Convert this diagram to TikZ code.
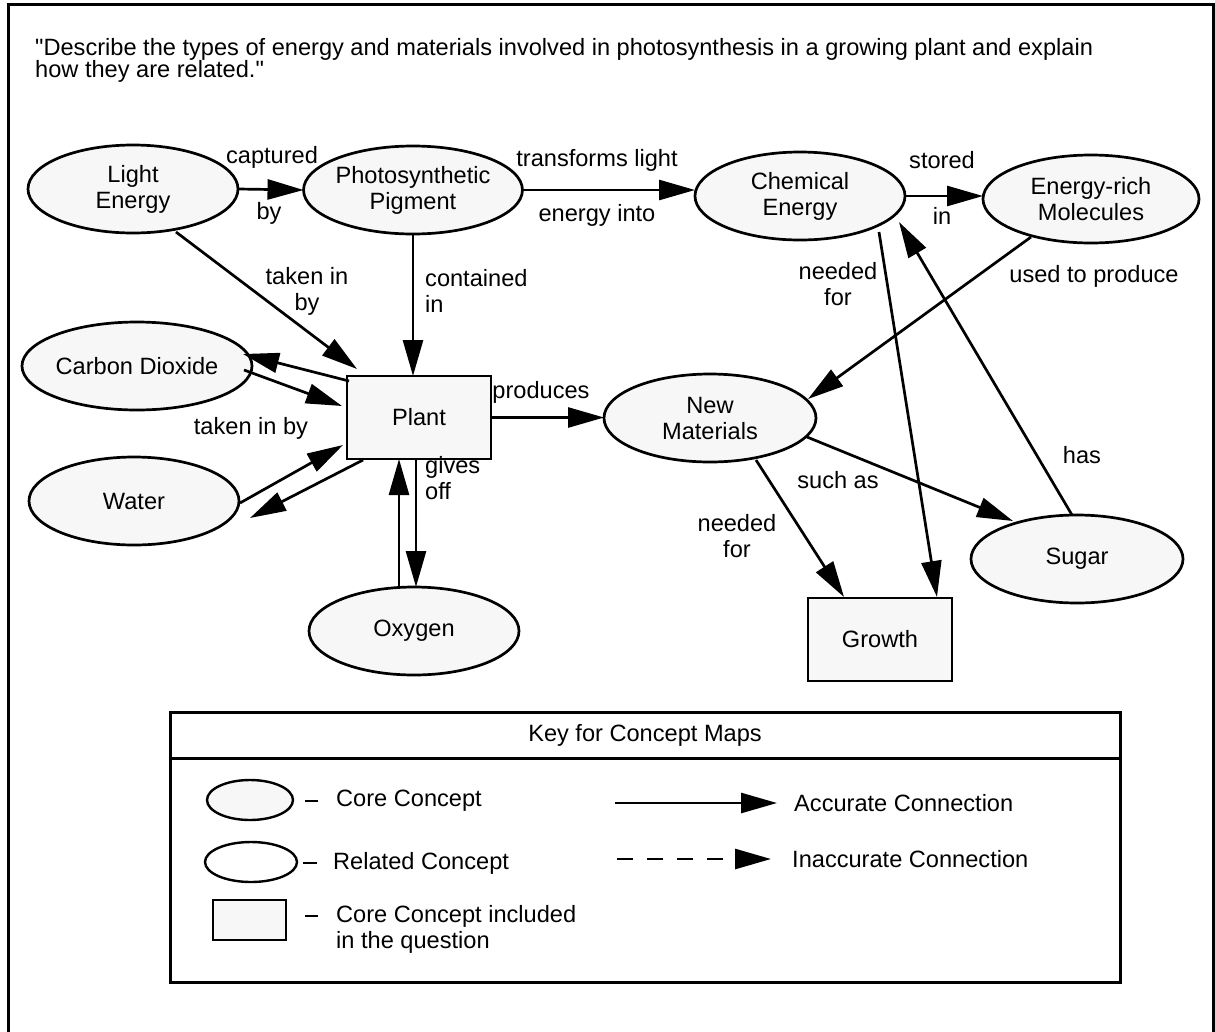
\documentclass[tikz,border=0pt]{standalone}
\usepackage{fontspec}
\setmainfont{Liberation Sans}[Ligatures=TeXOff]
\usetikzlibrary{shapes.geometric,arrows.meta}
\definecolor{conceptfill}{HTML}{F7F7F7}
\begin{document}
\begin{tikzpicture}[x=1pt,y=-1pt,
  every node/.style={font=\fontsize{23.6}{26}\selectfont},
  core/.style={ellipse,draw,line width=2.7pt,fill=conceptfill,inner sep=0pt,outer sep=0pt,
    minimum width=210pt,minimum height=88pt,align=center},
  given/.style={rectangle,draw,line width=2.7pt,fill=conceptfill,inner sep=0pt,outer sep=0pt,
    minimum width=144pt,minimum height=83pt,align=center},
  lbl/.style={inner sep=0pt,align=center},
  lbll/.style={inner sep=0pt,align=left,anchor=west},
  link/.style={line width=2.7pt,-{Triangle[length=36pt,width=20pt]}},
  plain/.style={line width=2.6pt}]
\useasboundingbox (0,0) rectangle (1215,1031);
% outer frame, open at the bottom of the page
\draw[line width=3pt] (8,1040) -- (8,4) -- (1213,4) -- (1213,1040);
% question
\node[anchor=north west,inner sep=0pt,align=left,font=\fontsize{23.6}{22}\selectfont] (q) at (35,38)
  {"Describe the types of energy and materials involved in photosynthesis in a growing plant and explain\\how they are related."};
% concepts
\node[core] (le) at (133,189) {Light\\Energy};
\node[core] (pp) at (413,190) {Photosynthetic\\Pigment};
\node[core] (ce) at (800,196) {Chemical\\Energy};
\node[core,minimum width=216pt] (er) at (1091,199) {Energy-rich\\Molecules};
\node[core] (co) at (137,366) {Carbon Dioxide};
\node[core] (wa) at (134,501) {Water};
\node[given] (pl) at (419,417.5) {Plant};
\node[core] (ox) at (414,631) {Oxygen};
\node[core,minimum width=212pt] (nm) at (710,418) {New\\Materials};
\node[core,minimum width=212pt] (su) at (1077,559) {Sugar};
\node[given] (gr) at (880,639.5) {Growth};
% links
\draw[link] (le.east) -- (pp.west);
\draw[link] (pp.east) -- (pp.east -| ce.west);
\draw[link] (ce.east) -- (ce.east -| er.west);
\draw[link] ([shift={(43pt,-43pt)}]le.center) -- ([shift={(-62pt,48.5pt)}]pl.center);
\draw[link] (pp.south) -- (pp.south |- pl.north);
\draw[link] ([shift={(-70pt,36.5pt)}]pl.center) -- ([shift={(106pt,12pt)}]co.center);
\draw[link] ([shift={(107pt,-4pt)}]co.center) -- ([shift={(-77pt,11.5pt)}]pl.center);
\draw[link] ([shift={(106pt,-2pt)}]wa.center) -- ([shift={(-76pt,-27.5pt)}]pl.center);
\draw[link] ([shift={(-56pt,-42.5pt)}]pl.center) -- ([shift={(116pt,-17pt)}]wa.center);
\draw[link] ([xshift=2pt]ox.north |- pl.south) -- ([xshift=2pt]ox.north);
\draw[link] ([xshift=-15pt]ox.north) -- ([xshift=-15pt]ox.north |- pl.south);
\draw[link] (pl.east) -- (pl.east -| nm.west);
\draw[link] ([shift={(-60pt,-38pt)}]er.center) -- ([shift={(98pt,19pt)}]nm.center);
\draw[link] ([shift={(79pt,-36pt)}]ce.center) -- ([shift={(57pt,42.5pt)}]gr.center);
\draw[link] ([xshift=-5pt]su.north) -- ([shift={(99pt,-26pt)}]ce.center);
\draw[link] ([shift={(97pt,-19pt)}]nm.center) -- ([shift={(-64pt,38pt)}]su.center);
\draw[link] ([shift={(46pt,-42pt)}]nm.center) -- ([shift={(-36pt,42.5pt)}]gr.center);
% link labels
\node[lbl] (l1a) at (272,157) {captured};
\node[lbl] (l1b) at (269,213) {by};
\node[lbl] (l2a) at (597,160) {transforms light};
\node[lbl] (l2b) at (597,215) {energy into};
\node[lbl] (l3a) at (942,160) {stored};
\node[lbl] (l3b) at (942,216) {in};
\node[lbl] (l4) at (307,291) {taken in\\by};
\node[lbll] (l5) at (425,291) {contained\\in};
\node[lbl] (l6) at (251,428) {taken in by};
\node[lbl] (l7) at (541,392) {produces};
\node[lbll] (l8) at (425,478) {gives\\off};
\node[lbl] (l9) at (838,284) {needed\\for};
\node[lbl] (l10) at (1094,276) {used to produce};
\node[lbl] (l11) at (1082,455) {has};
\node[lbl] (l12) at (838,480) {such as};
\node[lbl] (l13) at (737,536) {needed\\for};
% key
\draw[line width=3pt] (170,712) rectangle (1120,982);
\draw[line width=3pt] (170,758) -- (1120,758);
\node[lbl] (kt) at (645,735) {Key for Concept Maps};
\node[ellipse,draw,line width=2.4pt,fill=conceptfill,minimum width=86pt,minimum height=40pt,inner sep=0pt] (k1) at (250,800) {};
\node[ellipse,draw,line width=2.4pt,fill=white,minimum width=92pt,minimum height=40pt,inner sep=0pt] (k2) at (251,862) {};
\node[rectangle,draw,line width=2.4pt,fill=conceptfill,minimum width=73pt,minimum height=40pt,inner sep=0pt] (k3) at (249.5,920) {};
\node[lbll] (t1) at (336,801) {Core Concept};
\node[lbll] (t2) at (333,863) {Related Concept};
\node[lbll,anchor=north west] (t3) at (336,905) {Core Concept included\\in the question};
\draw[plain] ([xshift=-31pt]t1.west) -- ([xshift=-18pt]t1.west);
\draw[plain] ([xshift=-30pt]t2.west) -- ([xshift=-16pt]t2.west);
\draw[plain] (305,916) -- (318,916);
\coordinate (a1) at (615,803);
\coordinate (a2) at (777,803);
\coordinate (b1) at (617,859);
\coordinate (b2) at (771,859);
\draw[link] (a1) -- (a2);
\draw[link,dash pattern=on 16pt off 14pt] (b1) -- (b2);
\node[lbll] (t4) at (794,803) {Accurate Connection};
\node[lbll] (t5) at (792,859) {Inaccurate Connection};
\end{tikzpicture}
\end{document}
